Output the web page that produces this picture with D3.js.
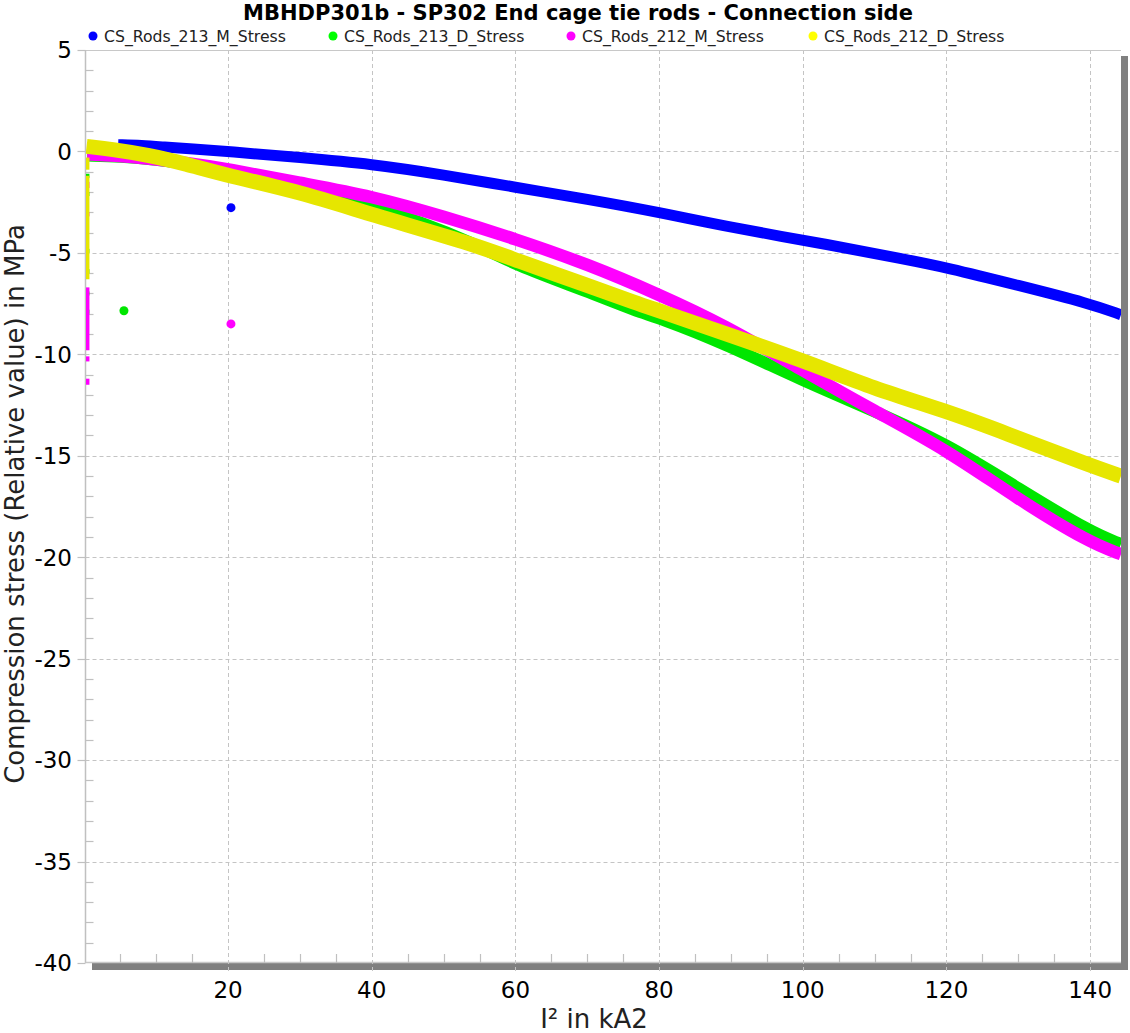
<!DOCTYPE html>
<html><head><meta charset="utf-8">
<script src="https://cdn.jsdelivr.net/npm/d3@7"></script>
<style>body{margin:0;background:#fff;} svg{display:block;}</style>
</head><body>
<script>
// ---- data ----
const seriesNames = ["CS_Rods_213_M_Stress","CS_Rods_213_D_Stress","CS_Rods_212_M_Stress","CS_Rods_212_D_Stress"];
const seriesColors = ["#0000ff","#00e600","#ff00ff","#e6e600"];
const legendColors = ["#0000ff","#00ff00","#ff00ff","#ffff00"];

const blueX = [4.7, 8, 11, 15, 20, 30, 40, 50, 60, 70, 80, 90, 104, 114, 120, 130, 140, 144.3];
const blueY = [0.33, 0.3, 0.22, 0.12, 0.0, -0.3, -0.62, -1.15, -1.77, -2.35, -3.0, -3.75, -4.62, -5.3, -5.72, -6.6, -7.5, -8.05];

const greenX = [0.4, 5, 10, 15, 20, 30, 40, 47, 54, 60, 70, 77, 80, 89, 100, 110, 120, 130, 140, 144.3];
const greenY = [-0.2, -0.25, -0.4, -0.65, -1.0, -1.7, -2.72, -3.5, -4.5, -5.6, -6.9, -7.9, -8.2, -9.45, -11.3, -12.8, -14.4, -16.6, -18.75, -19.35];

const magentaX = [0.4, 4, 9, 14, 20, 30, 40, 50, 60, 70, 80, 89, 100, 110, 120, 130, 140, 144.3];
const magentaY = [-0.14, -0.2, -0.35, -0.55, -0.86, -1.55, -2.2, -3.2, -4.31, -5.55, -7.05, -8.54, -10.8, -12.8, -14.7, -17.15, -19.3, -19.85];

const yellowX = [0.3, 4, 9, 14, 20, 30, 40, 54, 60, 70, 77, 80, 89, 100, 110, 120, 128, 140, 144.3];
const yellowY = [0.25, 0.1, -0.18, -0.6, -1.2, -2.0, -3.12, -4.55, -5.35, -6.6, -7.5, -7.85, -8.95, -10.3, -11.7, -12.8, -13.85, -15.48, -16.0];

// vertical clusters of points near I² ≈ 0.35 (ranges of stress values)
const clusterX = 0.35;
const greenCluster = [[-1.1, -1.3], [-2.0, -2.2], [-4.8, -5.0], [-5.8, -6.0], [-6.9, -7.1], [-7.8, -8.0]];
const magentaCluster = [[-1.5, -1.8], [-3.0, -3.2], [-6.7, -9.8], [-10.1, -10.35], [-11.2, -11.5]];
const yellowCluster = [[-0.3, -0.9], [-1.2, -6.3]];

// isolated outlier points [x, y]
const blueOutliers = [[20.4, -2.77]];
const greenOutliers = [[5.5, -7.85]];
const magentaOutliers = [[20.4, -8.5]];

const xTickLabels = [20, 40, 60, 80, 100, 120, 140];
const yTickLabels = [5, 0, -5, -10, -15, -20, -25, -30, -35, -40];

const titleText = "MBHDP301b - SP302 End cage tie rods - Connection side";
const xTitle = "I² in kA2";
const yTitle = "Compression stress (Relative value) in MPa";

// ---- layout ----
const W = 1130, H = 1033;
const L = 85.5, R = 1121, T = 50, B = 963;
const FONT = "'DejaVu Sans', Verdana, sans-serif";

const svg = d3.select("body").append("svg").attr("width", W).attr("height", H)
  .style("font-family", FONT);

const x = d3.scaleLinear().domain([0.15, 144.3]).range([L, R]);
const y = d3.scaleLinear().domain([-40, 5]).range([B, T]);

// shadow
svg.append("rect").attr("x", R).attr("y", T + 6).attr("width", 7).attr("height", B - T + 1).attr("fill", "#808080");
svg.append("rect").attr("x", L + 6.5).attr("y", B).attr("width", R - L + 0.5).attr("height", 7).attr("fill", "#808080");

// grid
const grid = svg.append("g").attr("stroke", "#c4c4c4").attr("stroke-width", 1).attr("stroke-dasharray", "4,3");
grid.selectAll("line.v").data(xTickLabels).join("line")
  .attr("x1", d => Math.round(x(d)) + 0.5).attr("x2", d => Math.round(x(d)) + 0.5)
  .attr("y1", T).attr("y2", B + 10);
grid.selectAll("line.h").data(yTickLabels.filter(d => d > -40 && d < 5)).join("line")
  .attr("x1", L).attr("x2", R)
  .attr("y1", d => Math.round(y(d)) + 0.5).attr("y2", d => Math.round(y(d)) + 0.5);

// frame
svg.append("line").attr("x1", L).attr("x2", R).attr("y1", T + 0.5).attr("y2", T + 0.5).attr("stroke", "#c8c8c8");
svg.append("line").attr("x1", L).attr("x2", L).attr("y1", T).attr("y2", B).attr("stroke", "#c0c0c0").attr("stroke-width", 1.5);
svg.append("line").attr("x1", L).attr("x2", R).attr("y1", B - 0.5).attr("y2", B - 0.5).attr("stroke", "#c8c8c8").attr("stroke-width", 1.5);

// minor ticks
const ticks = svg.append("g").attr("stroke", "#c0c0c0").attr("stroke-width", 1.2);
const yMinor = d3.range(-39, 5, 1).filter(v => v % 5 !== 0);
ticks.selectAll("line.ym").data(yMinor).join("line")
  .attr("x1", L).attr("x2", L + 8)
  .attr("y1", d => Math.round(y(d)) + 0.5).attr("y2", d => Math.round(y(d)) + 0.5);
ticks.selectAll("line.yM").data(yTickLabels).join("line")
  .attr("x1", L - 8).attr("x2", L)
  .attr("y1", d => Math.round(y(d)) + 0.5).attr("y2", d => Math.round(y(d)) + 0.5);
const xMinor = d3.range(5, 145, 5).filter(v => v % 20 !== 0);
ticks.selectAll("line.xm").data(xMinor).join("line")
  .attr("x1", d => Math.round(x(d)) + 0.5).attr("x2", d => Math.round(x(d)) + 0.5)
  .attr("y1", B - 9).attr("y2", B);

// tick labels
svg.append("g").selectAll("text").data(yTickLabels).join("text")
  .attr("x", 72).attr("y", d => y(d)).attr("dy", "0.36em")
  .attr("text-anchor", "end").attr("font-size", 23).attr("fill", "#000")
  .text(d => d);
svg.append("g").selectAll("text").data(xTickLabels).join("text")
  .attr("x", d => x(d)).attr("y", 998)
  .attr("text-anchor", "middle").attr("font-size", 23).attr("fill", "#000")
  .text(d => d);

// axis titles
svg.append("text").attr("x", 594).attr("y", 1028).attr("text-anchor", "middle")
  .attr("font-size", 26).attr("fill", "#222").text(xTitle);
svg.append("text").attr("transform", `translate(24,504) rotate(-90)`)
  .attr("text-anchor", "middle").attr("font-size", 26).attr("fill", "#222").text(yTitle);

// title
svg.append("text").attr("x", 578).attr("y", 20).attr("text-anchor", "middle")
  .attr("font-size", 21).attr("font-weight", "bold").attr("fill", "#000").text(titleText);

// legend
const legendX = [93, 333, 571, 813];
const lg = svg.append("g").selectAll("g").data(seriesNames).join("g")
  .attr("transform", (d, i) => `translate(${legendX[i]},36)`);
lg.append("circle").attr("r", 4.5).attr("fill", (d, i) => legendColors[i]);
lg.append("text").attr("x", 11).attr("dy", "0.36em").attr("font-size", 15.7).attr("fill", "#222").text(d => d);

// plot data
svg.append("clipPath").attr("id", "clip").append("rect")
  .attr("x", L + 0.5).attr("y", T).attr("width", R - L - 0.5).attr("height", B - T - 1);
const plot = svg.append("g").attr("clip-path", "url(#clip)");

const line = d3.line().x(d => x(d[0])).y(d => y(d[1])).curve(d3.curveBasis);
const zip = (xs, ys) => xs.map((v, i) => [v, ys[i]]);

const series = [
  {xs: blueX, ys: blueY, c: seriesColors[0], w: 11, cl: [], out: blueOutliers},
  {xs: greenX, ys: greenY, c: seriesColors[1], w: 12, cl: greenCluster, out: greenOutliers},
  {xs: magentaX, ys: magentaY, c: seriesColors[2], w: 12.5, cl: magentaCluster, out: magentaOutliers},
  {xs: yellowX, ys: yellowY, c: seriesColors[3], w: 15, cl: yellowCluster, out: []}
];

series.forEach(s => {
  plot.append("path").datum(zip(s.xs, s.ys)).attr("d", line)
    .attr("fill", "none").attr("stroke", s.c).attr("stroke-width", s.w).attr("stroke-linecap", "butt");
});
series.forEach(s => {
  plot.append("g").selectAll("line").data(s.cl).join("line")
    .attr("x1", x(clusterX)).attr("x2", x(clusterX))
    .attr("y1", d => y(d[0])).attr("y2", d => y(d[1]))
    .attr("stroke", s.c).attr("stroke-width", 5);
  plot.append("g").selectAll("circle").data(s.out).join("circle")
    .attr("cx", d => x(d[0])).attr("cy", d => y(d[1])).attr("r", 4.5).attr("fill", s.c);
});
</script>
</body></html>
